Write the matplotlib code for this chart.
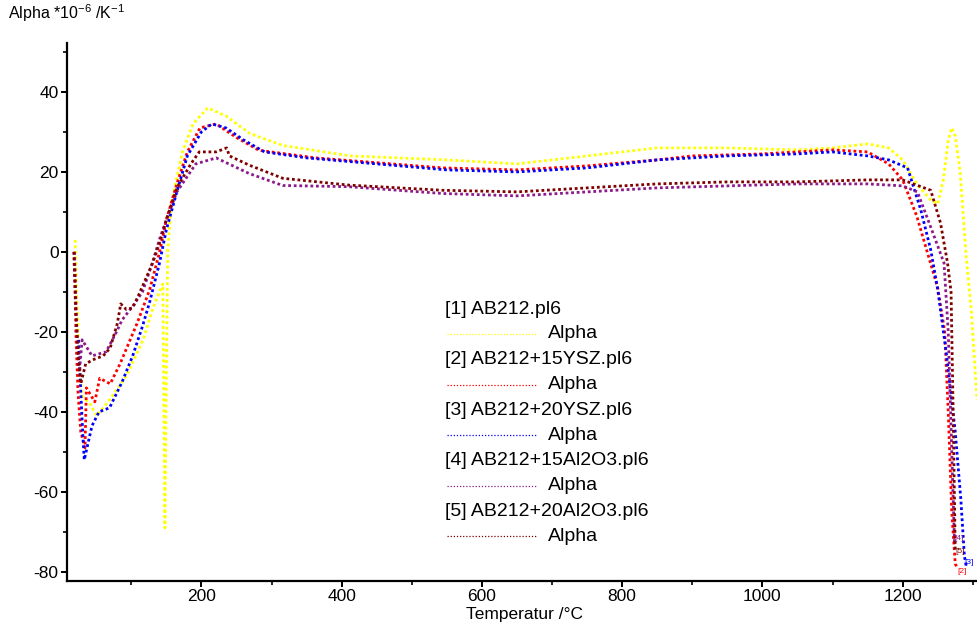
import matplotlib.pyplot as plt
from matplotlib.lines import Line2D
from matplotlib.ticker import MultipleLocator

plt.rcParams['font.family'] = ['Liberation Sans', 'DejaVu Sans']
plt.rcParams['mathtext.default'] = 'regular'
plt.rcParams['axes.unicode_minus'] = False

#---------- DATA --------------------------------------------------------------
names = ['[1] AB212.pl6', '[2] AB212+15YSZ.pl6', '[3] AB212+20YSZ.pl6',
         '[4] AB212+15Al2O3.pl6', '[5] AB212+20Al2O3.pl6']
tags = ['[1]', '[2]', '[3]', '[4]', '[5]']
colors = ['#ffff00', '#ff0000', '#0000ff', '#8b1a8b', '#800000']

T1 = [20, 22, 25, 30, 41, 51, 69, 93, 117, 131, 145, 148, 150, 152, 157, 173,
      188, 209, 235, 269, 316, 412, 549, 650, 750, 850, 950, 1050, 1100, 1150,
      1180, 1200, 1220, 1240, 1250, 1258, 1265, 1270, 1275, 1282, 1290, 1298, 1306]
A1 = [3, -10, -25, -36, -38, -41, -37, -31, -22, -14, -8, -69, -30, 0, 12, 25,
      32, 36, 34, 29.6, 26.6, 24, 23, 22, 24, 26, 26, 25.5, 26, 27,
      26, 23, 17, 13, 12, 18, 28, 31, 29, 20, 0, -15, -37]

T2 = [19, 21, 24, 28, 34, 36, 48, 55, 70, 84, 108, 126, 141, 150, 165, 180,
      198, 221, 249, 282, 363, 544, 650, 750, 850, 900, 1000, 1100, 1150, 1180,
      1200, 1220, 1235, 1250, 1260, 1265, 1270, 1275, 1278]
A2 = [0, -20, -35, -45, -49, -34, -37.5, -31.6, -33, -28, -18, -9.6, 0.4, 8, 17, 25,
      31, 32, 28.7, 25.4, 23.5, 21, 20.5, 21.5, 23, 24, 24.5, 25.5, 25, 22,
      18, 9, 0, -9, -20, -40, -65, -78, -79]

T3 = [25, 28, 31, 33, 44, 54, 69, 87, 102, 116, 126, 140, 150, 165, 180, 200,
      215, 235, 260, 290, 350, 450, 550, 650, 750, 850, 950, 1050, 1100, 1150,
      1180, 1207, 1226, 1240, 1250, 1262, 1275, 1283, 1288, 1291]
A3 = [-22, -35, -46, -52, -43.5, -40, -39, -32.5, -26, -18.6, -12.7, -3, 5.5, 15, 24, 30,
      32, 31, 28, 25, 23.5, 22, 20.5, 20, 21, 23, 24, 24.5, 25, 24,
      23, 21, 10.4, 0.5, -9.4, -25, -45, -62, -76, -79]

T4 = [19, 22, 26, 30, 44, 64, 79, 87, 102, 116, 130, 140, 150, 165, 192, 221,
      268, 316, 410, 544, 650, 750, 850, 950, 1050, 1150, 1200, 1221, 1240, 1259,
      1265, 1270, 1274]
A4 = [0, -18, -30, -22, -26, -25, -20, -17, -13.6, -10, -2.8, 3, 8, 15, 22, 23.5,
      19.6, 16.6, 16.3, 14.6, 14, 15, 16, 16.5, 17, 17, 16.5, 15, 6.2, -2.8,
      -20, -50, -73]

T5 = [18, 21, 25, 28, 35, 45, 60, 70, 80, 85, 93, 102, 110, 120, 130, 140, 150,
      165, 185, 197, 221, 236, 240, 268, 316, 410, 544, 650, 750, 850, 950, 1050,
      1150, 1200, 1240, 1254, 1264, 1269, 1272, 1275]
A5 = [0, -15, -28, -33, -28, -27, -26, -24, -18, -13, -14.4, -14, -11, -7, -3, 2, 8,
      16, 22, 25, 25, 26, 24, 21.7, 18.4, 16.7, 15.4, 15, 16, 17, 17.5, 17.5,
      18, 18, 15.4, 7.2, -2.8, -10, -40, -75]

series_T = [T1, T2, T3, T4, T5]
series_A = [A1, A2, A3, A4, A5]
#------------------------------------------------------------------------------

fig = plt.figure(figsize=(9.77, 6.24), dpi=100)
ax = fig.add_axes([0.0686, 0.0689, 0.9314, 0.862])

for T, A, c in zip(series_T, series_A, colors):
    ax.plot(T, A, color=c, linestyle=(0, (1, 1)), linewidth=2.0)

# small end-of-curve tags, nudged so they don't sit on top of each other
nudge = {'[2]': (0, -3), '[3]': (-1.5, 4), '[4]': (0, 4), '[5]': (0, 0)}
for T, A, c, tg in zip(series_T[1:], series_A[1:], colors[1:], tags[1:]):
    ax.annotate(tg, (T[-1], A[-1]), xytext=nudge[tg], textcoords='offset points',
                color=c, fontsize=6, ha='left', va='center')

ax.set_xlim(8.4, 1306)
ax.set_ylim(-82.3, 52.2)
ax.xaxis.set_minor_locator(MultipleLocator(100))
ax.yaxis.set_major_locator(MultipleLocator(20))
ax.yaxis.set_minor_locator(MultipleLocator(10))
ax.set_xticks([200, 400, 600, 800, 1000, 1200])

for s in ['top', 'right']:
    ax.spines[s].set_visible(False)
for s in ['left', 'bottom']:
    ax.spines[s].set_linewidth(1.6)
ax.tick_params(which='major', length=4, width=1.4, labelsize=12.5, colors='black', pad=2)
ax.tick_params(which='minor', length=3, width=1.2)

fig.text(8 / 977, 1 - 13 / 624, 'Alpha *10$^{-6}$ /K$^{-1}$', fontsize=11.5,
         ha='left', va='center')
fig.text(525 / 977, 1 - 614 / 624, 'Temperatur /°C', fontsize=12.5,
         ha='center', va='center')

# legend drawn by hand, as in the reference
row0 = 309
for i, (nm, c) in enumerate(zip(names, colors)):
    y1 = 1 - (row0 + i * 50.6) / 624
    y2 = 1 - (row0 + 25 + i * 50.6) / 624
    fig.text(445 / 977, y1, nm, fontsize=14, ha='left', va='center')
    fig.add_artist(Line2D([447 / 977, 537 / 977], [y2, y2], color=c,
                          linestyle=(0, (1, 1.5)), linewidth=0.9,
                          transform=fig.transFigure))
    fig.text(548 / 977, y2, 'Alpha', fontsize=14, ha='left', va='center')

fig.savefig('out.png', dpi=100)
